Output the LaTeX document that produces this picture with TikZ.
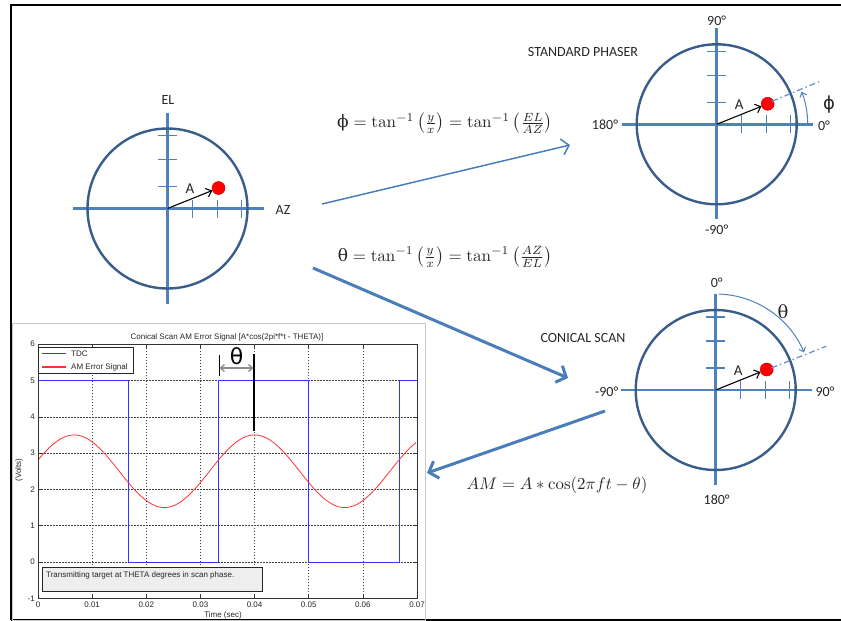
\documentclass[tikz,border=0pt]{standalone}
\usepackage[no-math]{fontspec}
\setmainfont{Carlito}
\newfontfamily\plotfont{Liberation Sans}
\newfontfamily\grk{DejaVu Serif}
\newfontfamily\grks{DejaVu Sans}
\usetikzlibrary{arrows.meta}
\definecolor{axblue}{RGB}{79,129,189}
\definecolor{circblue}{RGB}{56,93,138}
\definecolor{arrblue}{RGB}{74,126,187}
\definecolor{dashblue}{RGB}{100,150,210}
\definecolor{tdcblue}{RGB}{50,50,255}
\definecolor{amred}{RGB}{255,50,50}
\definecolor{boxgray}{RGB}{238,238,238}
\definecolor{txt}{RGB}{38,38,38}
\tikzset{
  axisline/.style={axblue, line width=2.8pt},
  circline/.style={circblue, line width=2.4pt},
  tickline/.style={axblue, line width=1.4pt},
  reddot/.style={circle, fill=red, draw=red!80!black, line width=0.5pt, minimum size=13pt, inner sep=0pt},
  aline/.style={black, line width=1.1pt, -{Straight Barb[length=5pt,width=9pt]}},
  lbl/.style={text=txt, font=\fontsize{14}{16}\selectfont, inner sep=0pt},
  biglbl/.style={text=txt, font=\fontsize{15}{17}\selectfont, inner sep=0pt},
  dashdot/.style={dashblue, line width=1.3pt, dash pattern=on 6pt off 3pt on 1.5pt off 3pt},
  arcline/.style={axblue, line width=1pt, -{Straight Barb[length=4pt,width=7pt]}},
  thinarrow/.style={arrblue, line width=1.5pt, -{Straight Barb[length=7pt,width=16pt]}},
  thickarrow/.style={arrblue, line width=3pt, -{Straight Barb[length=8pt,width=18pt]}},
  gridl/.style={black!75, line width=0.6pt, dash pattern=on 1.5pt off 1.5pt},
  ptxt/.style={font=\plotfont\fontsize{8}{9}\selectfont, text=black!85, inner sep=0pt},
  tdcline/.style={tdcblue, line width=0.9pt},
  amline/.style={amred, line width=0.8pt},
  phasor/.pic={
    \coordinate (-c) at (0,0);
    \draw[axisline] (-95,0) -- (96,0);
    \draw[axisline] (0,-96) -- (0,95);
    \draw[circline] (0,0) circle (80);
    \foreach \t in {25,50,74} \draw[tickline] (\t,-9) -- (\t,9);
    \foreach \t in {22,49,73} \draw[tickline] (-9.5,-\t) -- (9.5,-\t);
    \node[reddot] (-dot) at (51,-20.5) {};
    \draw[aline] (-c) -- (-dot);
    \node[biglbl] (-A) at (22.5,-19.5) {A};
  }
}
\begin{document}
\begin{tikzpicture}[x=1pt,y=-1pt]
\useasboundingbox (0,0) rectangle (841,621);
% outer frame
\draw[black, line width=2pt] (11,620) -- (11,5) -- (841,5);
\draw[black, line width=1.5pt] (11,620) -- (841,620);

% three phasor diagrams
\pic (L) at (167.5,208.5) {phasor};
\pic (P) at (716.7,124.3) {phasor};
\pic (C) at (715.7,390) {phasor};

% left labels
\node[lbl] (el) at (168,100) {EL};
\node[lbl] (az) at (283,210) {AZ};

% standard phaser labels
\node[lbl] (p90) at (716.7,20.7) {90°};
\node[lbl] (pm90) at (716.7,230) {-90°};
\node[lbl] (p180) at (605,125) {180°};
\node[lbl] (p0) at (824,126) {0°};
\node[lbl] (ptitle) at (583,51.7) {STANDARD PHASER};
\draw[dashdot] ([shift={(-22.6:60)}]P-c) -- ([shift={(-22.6:114)}]P-c);
\draw[arcline] ([shift={(0:91)}]P-c) arc[start angle=0, end angle=-21, radius=91];
\node[text=txt, inner sep=0pt, font=\grks\fontsize{18}{20}\selectfont] (phil) at (829,105) {ϕ};

% conical scan labels
\node[lbl] (c0) at (716.7,283) {0°};
\node[lbl] (c180) at (716.7,500) {180°};
\node[lbl] (cm90) at (606.7,391.7) {-90°};
\node[lbl] (c90) at (825,391.7) {90°};
\node[lbl] (ctitle) at (583,337.7) {CONICAL SCAN};
\draw[dashdot] ([shift={(-21.6:60)}]C-c) -- ([shift={(-21.6:119)}]C-c);
\draw[arcline] ([shift={(-88:96)}]C-c) arc[start angle=-88, end angle=-23, radius=96];
\node[text=txt, inner sep=0pt, font=\grk\fontsize{18}{20}\selectfont] (thl) at (783,311.5) {θ};

% formulas
\node[text=txt, scale=1.7, inner sep=0pt] (f1) at (445,123.3)
  {$\mbox{\grk ϕ} = \tan^{-1}\left(\frac{y}{x}\right) = \tan^{-1}\left(\frac{EL}{AZ}\right)$};
\node[text=txt, scale=1.7, inner sep=0pt] (f2) at (445,256.7)
  {$\mbox{\grk θ} = \tan^{-1}\left(\frac{y}{x}\right) = \tan^{-1}\left(\frac{AZ}{EL}\right)$};
\node[text=txt, scale=1.68, inner sep=0pt] (f3) at (557,485)
  {$AM = A * \cos(2\pi f t - \theta)$};

% connectors
\coordinate (s1) at (322,204); \coordinate (e1) at (570,145);
\coordinate (s2) at (313,268); \coordinate (e2) at (568,378);
\coordinate (s3) at (605,411); \coordinate (e3) at (427,473);
\draw[thinarrow] (s1) -- (e1);
\draw[thickarrow] (s2) -- (e2);
\draw[thickarrow] (s3) -- (e3);

% plot panel
\draw[black!22, line width=0.8pt] (12,323) rectangle (425,620);
\node[ptxt] (ptitle2) at (227,337) {Conical Scan AM Error Signal [A*cos(2pi*f*t - THETA)]};
\begin{scope}[shift={(38,562)}, x=5414.3pt, y=36.3pt]
  \foreach \v in {0,...,5} \draw[gridl] (0,\v) -- (0.07,\v);
  \foreach \t in {0.01,0.02,0.03,0.04,0.05,0.06} \draw[gridl] (\t,-1) -- (\t,6);
  \foreach \v in {-1,...,6} {
    \draw[black!80, line width=0.6pt] (0,\v) -- ++(4pt,0);
    \draw[black!80, line width=0.6pt] (0.07,\v) -- ++(-4pt,0);
    \node[ptxt, anchor=east] at ([xshift=-3pt]0,\v) {\v};
  }
  \foreach \t/\l in {0/0,0.01/0.01,0.02/0.02,0.03/0.03,0.04/0.04,0.05/0.05,0.06/0.06,0.07/0.07} {
    \draw[black!80, line width=0.6pt] (\t,-1) -- ++(0,4pt);
    \draw[black!80, line width=0.6pt] (\t,6) -- ++(0,-4pt);
    \node[ptxt] at ([yshift=-6pt]\t,-1) {\l};
  }
  \draw[tdcline] (0,5) -- (0.016667,5) -- (0.016667,0) -- (0.033333,0) -- (0.033333,5)
     -- (0.05,5) -- (0.05,0) -- (0.066667,0) -- (0.066667,5) -- (0.07,5);
  \draw[amline, domain=0:0.07, samples=200] plot (\x,{2.5+cos(10800*\x-72)});
  \draw[black!80, line width=0.8pt] (0,-1) rectangle (0.07,6);
\end{scope}
\node[ptxt, rotate=90] (ylab) at (19,470) {(Volts)};
\node[ptxt] (xlab) at (223,615) {Time (sec)};
% legend
\filldraw[draw=black!85, fill=white, line width=0.6pt] (38.5,347) rectangle (133,373);
\draw[tdcline, line width=1.1pt] (42,353.3) -- (66,353.3);
\draw[amline, line width=1.1pt] (42,367) -- (66,367);
\node[ptxt, anchor=west] (lg1) at (71,353.3) {TDC};
\node[ptxt, anchor=west] (lg2) at (71,367) {AM Error Signal};
% annotation box
\filldraw[draw=black!85, fill=boxgray, line width=0.6pt] (42,567) rectangle (262,591);
\node[ptxt, anchor=west] (ann) at (46,575.5) {Transmitting target at THETA degrees in scan phase.};
% theta marker
\draw[black, line width=1.3pt] (254,354) -- (254,431);
\draw[black, line width=1pt] (219,355) -- (219,376);
\draw[black!45, line width=1.3pt, {Straight Barb[length=4pt,width=7pt]}-{Straight Barb[length=4pt,width=7pt]}] (219.5,368) -- (253.5,368);
\node[text=black, inner sep=0pt, font=\grks\fontsize{22}{24}\selectfont] (thp) at (236.5,356) {θ};
\end{tikzpicture}
\end{document}
